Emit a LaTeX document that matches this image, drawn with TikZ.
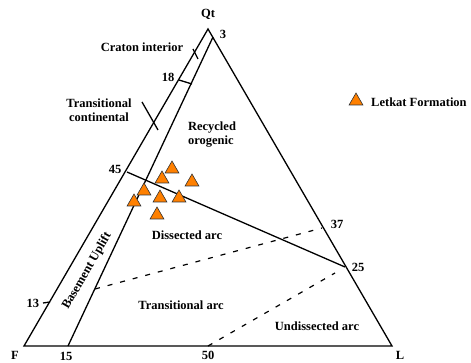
\documentclass[tikz,border=0pt]{standalone}
\usepackage{fontspec}
\setmainfont{Liberation Serif}
\usepackage{tikz}
\usetikzlibrary{shapes.geometric}

\definecolor{letkat}{RGB}{255,128,0}

\begin{document}
\begin{tikzpicture}[x = 1pt, y = -1pt,
    font = \bfseries\fontsize{12.5}{14}\selectfont,
    edge/.style = {line width = 1.3pt},
    field/.style = {line width = 1.2pt, dash pattern = on 5pt off 8pt},
    lbl/.style = {inner sep = 0pt},
    lkt/.style = {regular polygon, regular polygon sides = 3,
        minimum size = 16pt, inner sep = 0pt,
        fill = letkat, draw = black!80, line width = 0.6pt}]
    \useasboundingbox (0,0) rectangle (471,363);

    \coordinate (F) at (24,346);
    \coordinate (L) at (392,346);
    \coordinate (Qt) at (208,29);

    % main triangle
    \draw [edge] (F) -- (L) -- (Qt) -- cycle;

    % basement uplift band
    \coordinate (b15) at (68,346);
    \coordinate (b3) at (213,37);
    \draw [edge] (b15) -- (b3);

    % ticks on the left band
    \coordinate (c1) at (193,49);
    \coordinate (c2) at (198,59);
    \draw [edge] (c1) -- (c2);
    \coordinate (e18) at (179,80);
    \coordinate (i18) at (192,84);
    \draw [edge] (e18) -- (i18);
    \coordinate (t1) at (142,102);
    \coordinate (t2) at (158,130);
    \draw [edge] (t1) -- (t2);
    \coordinate (e13) at (43,303);
    \coordinate (f13) at (50,302);
    \draw [edge] (e13) -- (f13);

    % recycled orogenic / dissected arc
    \coordinate (e45) at (127,172);
    \coordinate (r25) at (345,267);
    \draw [edge] (e45) -- (r25);

    % dashed fields
    \coordinate (i37) at (95,289);
    \coordinate (r37) at (322,228);
    \draw [field] (i37) -- (r37);
    \coordinate (b50) at (208,346);
    \coordinate (u25) at (335,273);
    \draw [field] (b50) -- (u25);

    % labels
    \node [lbl] (qt) at (208,14) {Qt};
    \node [lbl] (n3) at (223,34) {3};
    \node [lbl] (craton) at (142,47) {Craton interior};
    \node [lbl] (n18) at (168,77) {18};
    \node [lbl, align = center] (trcont) at (99,110) {Transitional\\continental};
    \node [lbl, align = left] (recyc) at (212,135) {Recycled\\orogenic};
    \node [lbl] (n45) at (115,169) {45};
    \node [lbl] (dissec) at (187,235) {Dissected arc};
    \node [lbl] (n37) at (337,224) {37};
    \node [lbl] (n25) at (358,267) {25};
    \node [lbl, rotate = 60] (basem) at (87,271) {Basement Uplift};
    \node [lbl] (n13) at (33,303) {13};
    \node [lbl] (trarc) at (181,305) {Transitional arc};
    \node [lbl] (undis) at (317,326) {Undissected arc};
    \node [lbl] (f) at (15,355) {F};
    \node [lbl] (n15) at (66,356) {15};
    \node [lbl] (n50) at (208,355) {50};
    \node [lbl] (l) at (400,355) {L};

    % samples
    \node [lkt] (s1) at (172,169) {};
    \node [lkt] (s2) at (162,179) {};
    \node [lkt] (s3) at (192,182) {};
    \node [lkt] (s4) at (144,191) {};
    \node [lkt] (s5) at (160,198) {};
    \node [lkt] (s6) at (179,198) {};
    \node [lkt] (s7) at (134,202) {};
    \node [lkt] (s8) at (157,215) {};

    % legend
    \node [lkt] (key) at (356,101) {};
    \node [lbl, anchor = west] (keytxt) at (371,102) {Letkat Formation};
\end{tikzpicture}
\end{document}
